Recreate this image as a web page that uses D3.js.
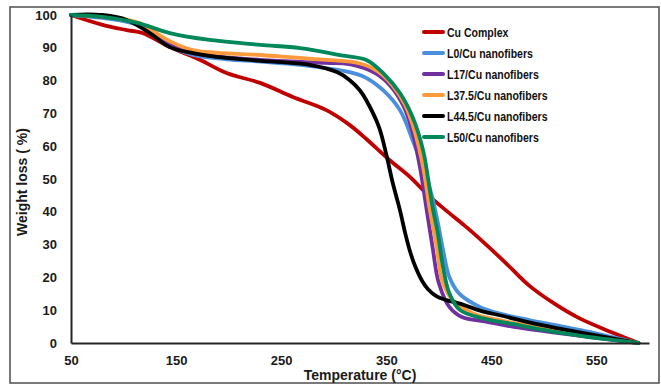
<!DOCTYPE html>
<html><head><meta charset="utf-8">
<script src="https://cdn.jsdelivr.net/npm/d3@7"></script>
<style>body{margin:0;background:#fff}svg{display:block}</style>
</head><body>
<svg id="c" width="661" height="386"></svg>
<script>
const xTicks = [50,150,250,350,450,550];
const yTicks = [0,10,20,30,40,50,60,70,80,90,100];
const seriesNames = ["Cu Complex","L0/Cu nanofibers","L17/Cu nanofibers","L37.5/Cu nanofibers","L44.5/Cu nanofibers","L50/Cu nanofibers"];
const seriesColors = ["#C00000","#4A8FDD","#7030A0","#FF9A3C","#000000","#00875A"];

const cuComplexT = [50,80,103,118,144,173,198,230,261,293,315,331,353,373,390,410,426,445,465,486,510,534,565,590];
const cuComplexW = [100,97,95.4,94.5,90.2,86.3,82.3,79.3,75.0,71.0,66.5,62.2,55.8,50.5,45,39.6,35.4,30,24,17.5,12,7.5,3.2,0];

const l0T = [50,80,113,144,166,198,230,268,315,330,347,363,375,391,398,404,410,419,439,460,486,510,534,565,590];
const l0W = [100,99.1,97,90.5,87.8,86.5,85.8,84.8,82.6,81,77.1,71.0,61.9,47.6,38.4,28.4,20.1,15.2,11,8.8,7.0,5.5,4.0,1.8,0];

const l17T = [50,80,113,144,166,230,293,315,340,355,366,374,382,388,394,400,410,422,445,470,520,590];
const l17W = [100,99.4,97.5,91,88.4,86.3,85.4,85.0,82.2,78,72.5,65.5,53.7,41.5,29.3,18.3,11.0,7.9,6.5,5,2.8,0];

const l375T = [50,80,113,144,166,230,293,324,342,356,368,377,385,391,398,403,413,432,460,490,530,590];
const l375W = [100,99.5,97.8,92,89.3,87.8,86.3,85.3,82.8,78.5,72.5,64.5,53.7,41.5,29.3,19.2,13.1,9.1,6.8,5,3,0];

const l445T = [50,65,80,103,125,144,166,198,246,277,303,315,325,331,343,350,356,363,368,373,378,384,390,398,408,420,440,460,490,530,590];
const l445W = [100,100.2,100,98.5,94.5,90.2,88.4,86.9,85.7,84.8,82.6,80.2,77,74,65.9,57.5,49,40.5,33.5,27.5,23,19,16.3,14.2,13,12,9.8,8.3,6,3.5,0];

const l50T = [50,80,113,144,182,230,268,309,331,347,363,375,385,391,394,399,404,410,420,442,470,518,555,590];
const l50W = [100,99.4,97.6,94.5,92.4,90.9,89.9,87.6,86.3,82.3,76.2,68.9,58.8,47.6,41.5,33.5,23.2,15.2,10.1,7.5,5.8,3.0,1.3,0];

const seriesT = [cuComplexT,l0T,l17T,l375T,l445T,l50T];
const seriesW = [cuComplexW,l0W,l17W,l375W,l445W,l50W];

const svg = d3.select("#c");
const x = d3.scaleLinear().domain([50,600]).range([71,649]);
const y = d3.scaleLinear().domain([0,100]).range([343,15]);

// outer frame
svg.append("rect").attr("x",10).attr("y",7).attr("width",649).attr("height",376)
  .attr("fill","none").attr("stroke","#4d4d4d").attr("stroke-width",1.5);

const line = d3.line().x(d=>x(d[0])).y(d=>y(d[1])).curve(d3.curveCatmullRom.alpha(0.5));
seriesT.forEach((ts,i)=>{
  const pts = ts.map((t,k)=>[t, seriesW[i][k]]);
  svg.append("path").datum(pts).attr("d",line).attr("fill","none")
    .attr("stroke",seriesColors[i]).attr("stroke-width",3.8)
    .attr("stroke-linejoin","round").attr("stroke-linecap","round");
});

const yAxis = svg.append("g").attr("transform","translate(71,0)")
  .call(d3.axisLeft(y).tickValues(yTicks).tickSize(0).tickPadding(14));
const xAxis = svg.append("g").attr("transform","translate(0,343)")
  .call(d3.axisBottom(x).tickValues(xTicks).tickSize(0).tickPadding(13));
[yAxis,xAxis].forEach(g=>{
  g.select(".domain").attr("stroke","#262626").attr("stroke-width",2);
  g.selectAll("text").attr("font-family","'Liberation Sans', Arial, sans-serif")
    .attr("font-size",13).attr("font-weight","bold").attr("fill","#1a1a1a");
});

svg.append("text").attr("transform","translate(27,182) rotate(-90)")
  .attr("text-anchor","middle").attr("font-family","'Liberation Sans', Arial, sans-serif")
  .attr("font-size",14).attr("font-weight","bold").attr("fill","#1a1a1a").text("Weight loss ( %)");
svg.append("text").attr("x",360).attr("y",380).attr("text-anchor","middle")
  .attr("font-family","'Liberation Sans', Arial, sans-serif")
  .attr("font-size",14).attr("font-weight","bold").attr("fill","#1a1a1a").text("Temperature (\u00B0C)");

// legend
const legY0 = 32, legDy = 21;
const leg = svg.append("g");
seriesNames.forEach((n,i)=>{
  const yy = legY0 + i*legDy;
  leg.append("line").attr("x1",424).attr("x2",443).attr("y1",yy).attr("y2",yy)
    .attr("stroke",seriesColors[i]).attr("stroke-width",4).attr("stroke-linecap","round");
  leg.append("text").attr("transform",`translate(447,${yy}) scale(0.81,1)`).attr("dy","0.36em")
    .attr("font-family","'Liberation Sans', Arial, sans-serif")
    .attr("font-size",13).attr("font-weight","bold").attr("fill","#111").text(n);
});
</script>
</body></html>
